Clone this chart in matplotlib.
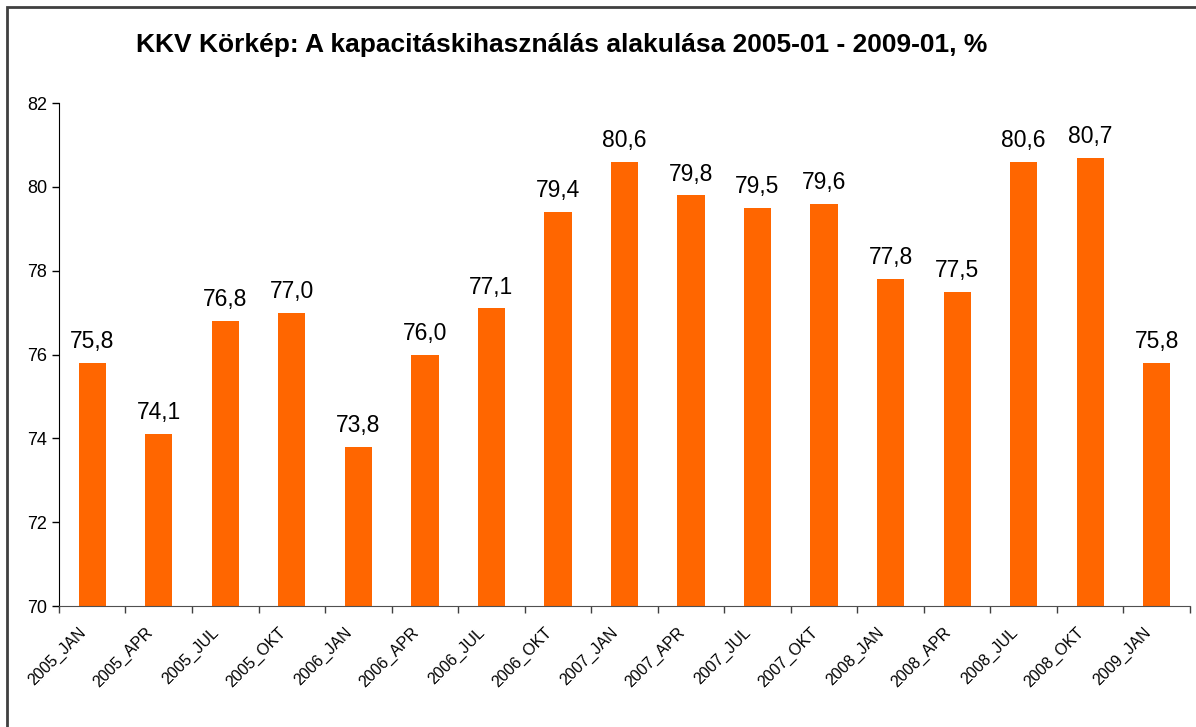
import matplotlib.pyplot as plt
import matplotlib.transforms as mtransforms
import numpy as np
from matplotlib.patches import Rectangle

# adatok
honapok = ["2005_JAN", "2005_APR", "2005_JUL", "2005_OKT",
           "2006_JAN", "2006_APR", "2006_JUL", "2006_OKT",
           "2007_JAN", "2007_APR", "2007_JUL", "2007_OKT",
           "2008_JAN", "2008_APR", "2008_JUL", "2008_OKT",
           "2009_JAN"]
kapacitas = [75.8, 74.1, 76.8, 77.0, 73.8, 76.0, 77.1, 79.4,
             80.6, 79.8, 79.5, 79.6, 77.8, 77.5, 80.6, 80.7, 75.8]
y_ticks = [70, 72, 74, 76, 78, 80, 82]

plt.rcParams['font.family'] = ['Liberation Sans', 'DejaVu Sans']

fig = plt.figure(figsize=(11.96, 7.27), dpi=100)
ax = fig.add_axes([0.0493, 0.1664, 0.9457, 0.6919])

x = np.arange(len(honapok))
ax.bar(x, kapacitas, width=0.41, color="#FF6600", zorder=2)

for xi, v in zip(x, kapacitas):
    ax.annotate(f"{v:.1f}".replace(".", ","), (xi, v), xytext=(0, 7),
                textcoords="offset points", ha="center", va="bottom",
                fontsize=16.5)

ax.set_ylim(70, 82)
ax.set_yticks(y_ticks)
ax.tick_params(axis="y", labelsize=13, direction="out", length=5, width=1)
ax.set_xlim(-0.5, len(honapok) - 0.5)
ax.set_xticks(x)
ax.set_xticklabels(honapok, rotation=45, ha="right", rotation_mode="anchor",
                   fontsize=11.5)
ax.tick_params(axis="x", length=0, pad=10)
# címkék kicsit balra
eltolas = mtransforms.ScaledTranslation(-14 / 100, -5 / 100, fig.dpi_scale_trans)
for lab in ax.get_xticklabels():
    lab.set_transform(lab.get_transform() + eltolas)
ax.set_xticks(np.arange(-0.5, len(honapok), 1), minor=True)
ax.tick_params(axis="x", which="minor", length=5, width=1, color="#404040")

ax.spines["top"].set_visible(False)
ax.spines["right"].set_visible(False)
ax.spines["left"].set_color("black")
ax.spines["bottom"].set_color("#505050")

fig.text(0.47, 0.938, "KKV Körkép: A kapacitáskihasználás alakulása 2005-01 - 2009-01, %",
         ha="center", va="center", fontsize=19, fontweight="bold")

# keret
fig.patches.append(Rectangle((7 / 1196, -0.01), 1.1, 1 - 7 / 727 + 0.01,
                             transform=fig.transFigure, fill=False,
                             edgecolor="#404040", linewidth=2))

fig.savefig("out.png", dpi=100)
